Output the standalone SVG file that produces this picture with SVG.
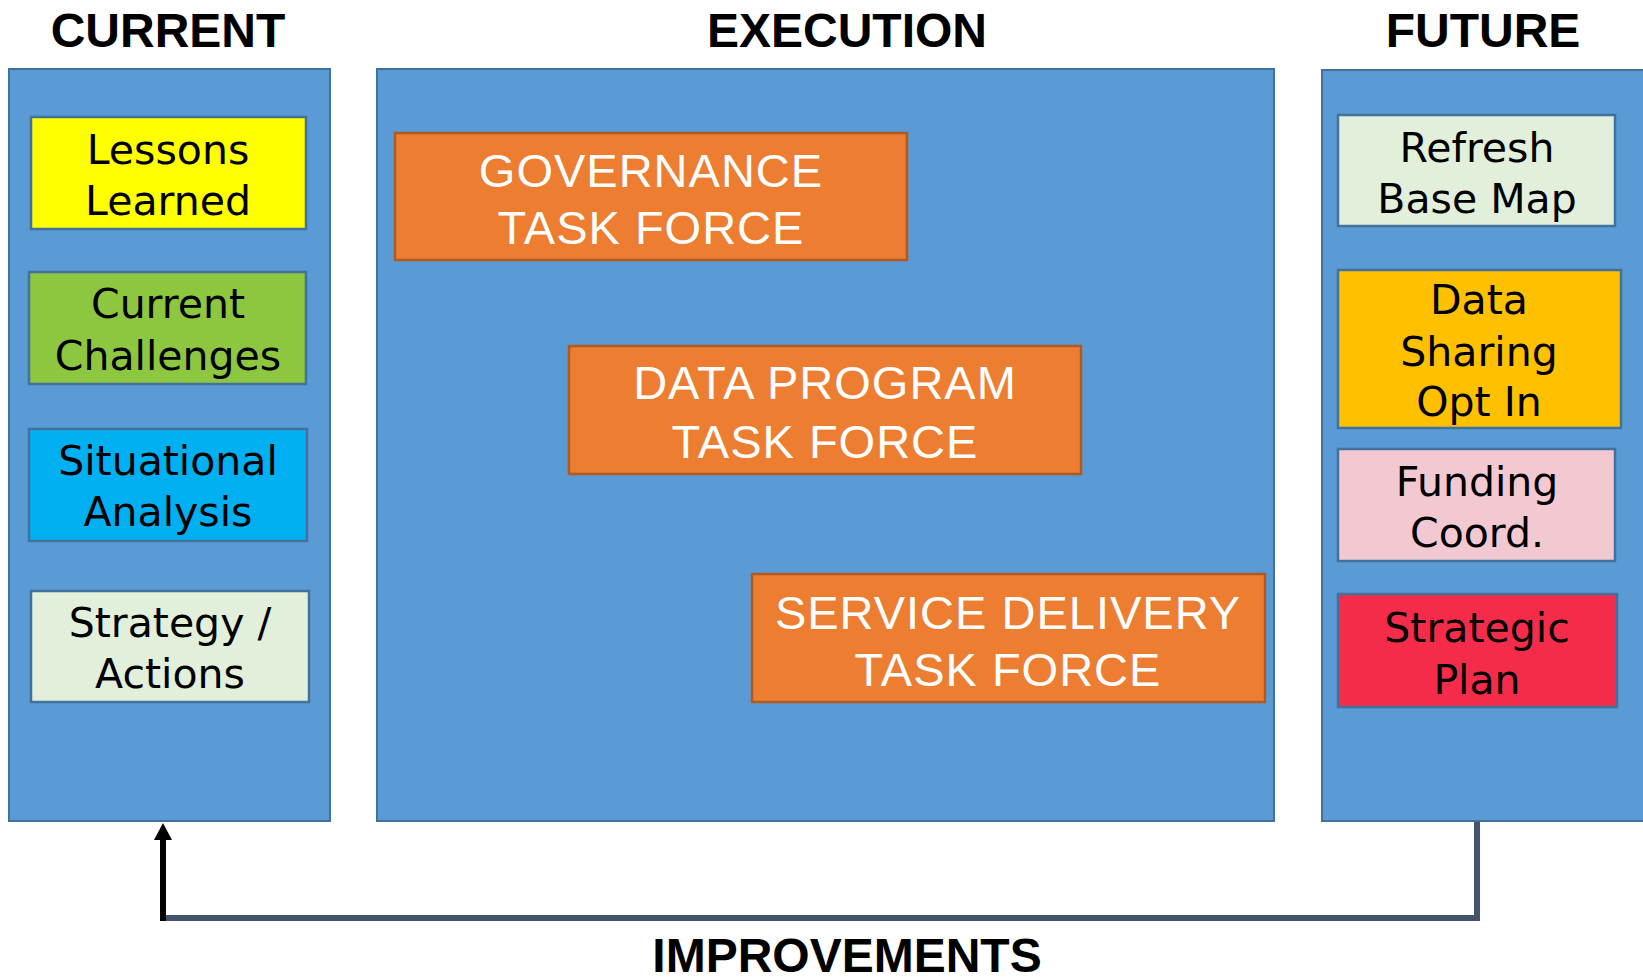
<svg xmlns="http://www.w3.org/2000/svg" width="1643" height="980" viewBox="0 0 1643 980">
<defs>
<marker id="ah" viewBox="0 0 17 18" refX="0" refY="9" markerWidth="17" markerHeight="18" markerUnits="userSpaceOnUse" orient="auto">
<path d="M0,0 L17,9 L0,18 Z" fill="#000"/>
</marker>
</defs>
<style>
.title{font-family:"Liberation Sans",Arial,sans-serif;font-weight:bold;font-size:48px;fill:#000;text-anchor:middle}
.panel{fill:#5B9BD5;stroke:#41719C;stroke-width:2}
.box{stroke:#41719C;stroke-width:2.5}
.bt{font-family:"DejaVu Sans",Verdana,sans-serif;font-size:41px;fill:#000;text-anchor:middle}
.tf{fill:#ED7D31;stroke:#AE5A21;stroke-width:2.5}
.tft{font-family:"Liberation Sans",Arial,sans-serif;font-size:47px;fill:#fff;text-anchor:middle;letter-spacing:1px}
</style>
<rect width="1643" height="980" fill="#fff"/>
<text class="title" x="168" y="47">CURRENT</text>
<text class="title" x="847" y="47">EXECUTION</text>
<text class="title" x="1483" y="47">FUTURE</text>
<text class="title" x="847" y="972">IMPROVEMENTS</text>

<g id="current">
<rect class="panel" x="9" y="69" width="321" height="752"/>
</g>
<g id="execution">
<rect class="panel" x="377" y="69" width="897" height="752"/>
</g>
<g id="future">
<rect class="panel" x="1322" y="70" width="322" height="751"/>
</g>

<g id="lessons"><rect class="box" x="31" y="117" width="275" height="112" fill="#FFFF00"/>
<text class="bt" x="168" y="164">Lessons</text><text class="bt" x="168" y="215">Learned</text></g>
<g id="challenges"><rect class="box" x="29" y="272" width="277" height="112" fill="#8DC63F"/>
<text class="bt" x="168" y="318">Current</text><text class="bt" x="168" y="370">Challenges</text></g>
<g id="situational"><rect class="box" x="29" y="429" width="278" height="112" fill="#00B0F0"/>
<text class="bt" x="168" y="475">Situational</text><text class="bt" x="168" y="526">Analysis</text></g>
<g id="strategy"><rect class="box" x="31" y="591" width="278" height="111" fill="#E2EFDA"/>
<text class="bt" x="170" y="637">Strategy /</text><text class="bt" x="170" y="688">Actions</text></g>

<g id="governance"><rect class="tf" x="395" y="133" width="512" height="127"/>
<text class="tft" x="651" y="187">GOVERNANCE</text><text class="tft" x="651" y="244">TASK FORCE</text></g>
<g id="dataprogram"><rect class="tf" x="569" y="346" width="512" height="128"/>
<text class="tft" x="825" y="399">DATA PROGRAM</text><text class="tft" x="825" y="458">TASK FORCE</text></g>
<g id="servicedelivery"><rect class="tf" x="752" y="574" width="513" height="128"/>
<text class="tft" x="1008" y="629">SERVICE DELIVERY</text><text class="tft" x="1008" y="686">TASK FORCE</text></g>

<g id="refresh"><rect class="box" x="1338" y="115" width="277" height="111" fill="#E2EFDA"/>
<text class="bt" x="1477" y="162">Refresh</text><text class="bt" x="1477" y="213">Base Map</text></g>
<g id="datasharing"><rect class="box" x="1338" y="270" width="283" height="158" fill="#FFC000"/>
<text class="bt" x="1479" y="314">Data</text><text class="bt" x="1479" y="366">Sharing</text><text class="bt" x="1479" y="416">Opt In</text></g>
<g id="funding"><rect class="box" x="1338" y="449" width="277" height="112" fill="#F2C9D0"/>
<text class="bt" x="1477" y="496">Funding</text><text class="bt" x="1477" y="547">Coord.</text></g>
<g id="strategic"><rect class="box" x="1338" y="594" width="279" height="113" fill="#F42C4A"/>
<text class="bt" x="1477" y="642">Strategic</text><text class="bt" x="1477" y="694">Plan</text></g>

<g id="connectors">
<path d="M1477,822 V918 H163" fill="none" stroke="#44546A" stroke-width="6"/>
<path d="M163,921 V840" fill="none" stroke="#000" stroke-width="6" marker-end="url(#ah)"/>
</g>
</svg>
